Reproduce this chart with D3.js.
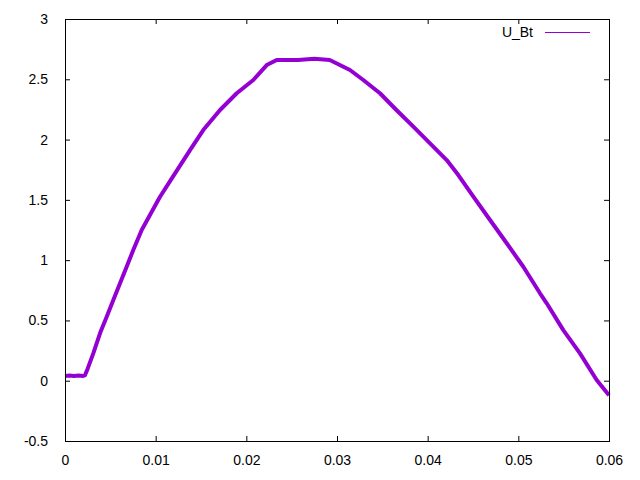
<!DOCTYPE html>
<html>
<head>
<meta charset="utf-8">
<script src="https://cdn.jsdelivr.net/npm/d3@7"></script>
<style>
  html, body { margin: 0; padding: 0; background: #fff; }
  svg { display: block; }
  text { font-family: "Liberation Sans", Arial, sans-serif; font-size: 14px; fill: #000; }
</style>
</head>
<body>
<svg id="chart" width="640" height="480"></svg>
<script>
// ---- data ----
const seriesName = "U_Bt";
const timeValues = [0, 0.0005, 0.001, 0.0015, 0.002, 0.0022, 0.0025, 0.00312, 0.00386, 0.0046,
  0.00533, 0.00607, 0.0068, 0.00753, 0.00846, 0.01048, 0.0118, 0.01379, 0.01525, 0.0171,
  0.01894, 0.02077, 0.02225, 0.02335, 0.0257, 0.0275, 0.0292, 0.03143, 0.0329, 0.03474,
  0.03658, 0.03842, 0.04026, 0.0421, 0.04338, 0.04504, 0.04688, 0.04872, 0.05055, 0.05239,
  0.05313, 0.05496, 0.0568, 0.05864, 0.06];
const voltageValues = [0.04, 0.043, 0.04, 0.043, 0.04, 0.045, 0.1, 0.227, 0.393, 0.531,
  0.669, 0.808, 0.945, 1.084, 1.25, 1.526, 1.68, 1.913, 2.079, 2.245,
  2.384, 2.494, 2.618, 2.66, 2.66, 2.67, 2.66, 2.577, 2.494, 2.384,
  2.243, 2.107, 1.969, 1.83, 1.706, 1.526, 1.333, 1.14, 0.945, 0.725,
  0.642, 0.42, 0.227, 0.006, -0.12];
const xTicks = [0, 0.01, 0.02, 0.03, 0.04, 0.05, 0.06];
const yTicks = [-0.5, 0, 0.5, 1, 1.5, 2, 2.5, 3];

// ---- layout ----
const svg = d3.select("#chart");
const mLeft = 65, mRight = 609, mTop = 19, mBottom = 441;
const x = d3.scaleLinear().domain([0, 0.06]).range([mLeft, mRight]);
const y = d3.scaleLinear().domain([-0.5, 3]).range([mBottom, mTop]);
const color = "#9400D3";
const tickLen = 5;

const data = timeValues.map((t, i) => ({ t, v: voltageValues[i] }));

// series
svg.append("path")
  .datum(data)
  .attr("fill", "none")
  .attr("stroke", color)
  .attr("stroke-width", 4)
  .attr("stroke-linejoin", "round")
  .attr("d", d3.line().x(d => x(d.t)).y(d => y(d.v)));

// axes (gnuplot style: inward ticks, mirrored)
const fmt = d => String(+d.toFixed(3));
const bottomAxis = d3.axisBottom(x).tickValues(xTicks).tickSize(-tickLen).tickPadding(14).tickFormat(fmt);
const topAxis = d3.axisTop(x).tickValues(xTicks).tickSize(-tickLen).tickFormat("");
const leftAxis = d3.axisLeft(y).tickValues(yTicks).tickSize(-tickLen).tickPadding(17).tickFormat(fmt);
const rightAxis = d3.axisRight(y).tickValues(yTicks).tickSize(-tickLen).tickFormat("");

function style(g) {
  g.select(".domain").remove();
  g.selectAll("line").attr("stroke", "#000").attr("stroke-width", 1);
  g.selectAll("text").attr("font-size", 14).attr("font-family", "Liberation Sans, Arial, sans-serif").attr("fill", "#000");
}
svg.append("g").attr("transform", `translate(0,${mBottom})`).call(bottomAxis).call(style);
svg.append("g").attr("transform", `translate(0,${mTop})`).call(topAxis).call(style);
svg.append("g").attr("transform", `translate(${mLeft},0)`).call(leftAxis).call(style);
svg.append("g").attr("transform", `translate(${mRight},0)`).call(rightAxis).call(style);

// border
svg.append("rect")
  .attr("x", mLeft + 0.5).attr("y", mTop + 0.5)
  .attr("width", mRight - mLeft).attr("height", mBottom - mTop)
  .attr("fill", "none").attr("stroke", "#000").attr("stroke-width", 1);

// legend
svg.append("text").attr("x", 533).attr("y", 37).attr("text-anchor", "end").text(seriesName);
svg.append("line").attr("x1", 545).attr("x2", 590).attr("y1", 32.5).attr("y2", 32.5)
  .attr("stroke", color).attr("stroke-width", 1);
</script>
</body>
</html>
